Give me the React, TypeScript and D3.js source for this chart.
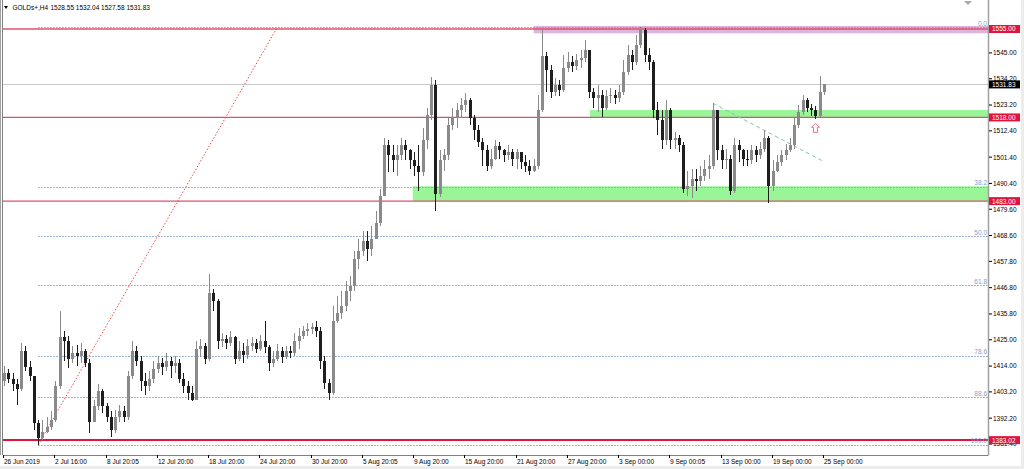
import * as d3 from "d3";

// GOLDs+ candles (open = previous close)
const firstOpen = 1407.6;
const closes = [
  1411.0, 1408.4, 1406.3, 1404.2, 1420.2, 1413.5, 1409.7, 1390.0, 1384.1, 1386.6,
  1388.7, 1391.6, 1405.5, 1426.1, 1424.4, 1416.8, 1419.4, 1418.1, 1420.2, 1415.2,
  1390.8, 1397.1, 1403.4, 1397.1, 1392.9, 1387.4, 1392.9, 1395.0, 1392.5, 1409.7,
  1420.2, 1416.0, 1407.6, 1405.5, 1408.4, 1412.6, 1415.2, 1413.5, 1416.0, 1413.9,
  1415.2, 1408.4, 1405.5, 1402.6, 1400.0, 1421.0, 1422.3, 1416.8, 1444.6, 1441.2,
  1424.4, 1425.2, 1423.6, 1426.1, 1416.8, 1420.2, 1418.5, 1422.3, 1423.6, 1421.0,
  1424.4, 1421.9, 1415.2, 1416.8, 1420.2, 1417.7, 1420.2, 1419.4, 1424.4, 1426.5,
  1428.6, 1429.4, 1430.3, 1428.6, 1416.0, 1406.8, 1402.6, 1432.8, 1436.2, 1439.1,
  1445.4, 1447.5, 1458.8, 1462.2, 1466.4, 1463.0, 1467.2, 1474.0, 1485.3, 1506.3,
  1502.1, 1500.0, 1502.1, 1506.3, 1504.2, 1500.0, 1497.9, 1495.0, 1508.4, 1518.9,
  1531.5, 1486.1, 1500.0, 1502.1, 1514.7, 1517.6, 1521.0, 1523.1, 1525.2, 1517.6,
  1512.6, 1507.6, 1504.2, 1497.9, 1500.8, 1505.9, 1504.2, 1502.1, 1503.4, 1500.8,
  1503.4, 1499.2, 1497.9, 1495.8, 1497.9, 1521.0, 1543.7, 1537.8, 1528.6, 1531.5,
  1529.4, 1538.6, 1541.2, 1539.5, 1542.0, 1542.8, 1546.2, 1528.6, 1526.0, 1527.3,
  1521.8, 1526.9, 1527.3, 1526.0, 1528.6, 1537.0, 1544.1, 1541.2, 1548.3, 1554.6,
  1544.1, 1541.2, 1521.0, 1516.8, 1508.4, 1521.0, 1508.4, 1509.2, 1506.3, 1488.2,
  1489.5, 1492.4, 1491.6, 1493.7, 1496.6, 1497.9, 1521.0, 1504.2, 1500.0, 1500.8,
  1487.4, 1506.3, 1504.2, 1500.8, 1500.0, 1504.2, 1502.1, 1505.0, 1509.2, 1489.5,
  1495.8, 1499.2, 1502.1, 1504.2, 1506.3, 1514.7, 1520.2, 1525.2, 1521.8, 1521.0,
  1518.5, 1528.55, 1531.83,
];
const highs = [
  1413.9, 1412.6, 1411.0, 1408.4, 1423.6, 1422.3, 1416.0, 1397.1, 1391.6, 1391.6,
  1392.9, 1395.0, 1407.6, 1437.0, 1428.6, 1426.5, 1422.3, 1422.7, 1423.6, 1421.0,
  1416.8, 1400.0, 1406.3, 1404.2, 1398.4, 1395.0, 1395.8, 1397.9, 1397.5, 1411.8,
  1424.4, 1422.3, 1418.1, 1411.0, 1411.8, 1416.0, 1418.1, 1417.3, 1419.4, 1417.7,
  1418.1, 1416.8, 1411.0, 1407.6, 1405.5, 1424.4, 1425.2, 1423.6, 1452.5, 1446.2,
  1442.0, 1427.8, 1426.9, 1428.6, 1426.5, 1424.4, 1423.6, 1425.2, 1426.1, 1425.2,
  1426.9, 1432.8, 1422.7, 1420.2, 1423.1, 1421.9, 1422.3, 1422.3, 1427.8, 1429.9,
  1430.7, 1432.0, 1432.0, 1432.8, 1430.3, 1418.1, 1408.4, 1439.1, 1443.3, 1445.4,
  1449.6, 1451.7, 1462.2, 1467.2, 1470.6, 1470.6, 1472.7, 1479.0, 1488.2, 1509.2,
  1508.4, 1506.3, 1506.3, 1509.2, 1508.4, 1505.0, 1503.4, 1506.3, 1513.4, 1521.8,
  1534.9, 1533.6, 1504.2, 1505.0, 1517.6, 1521.8, 1523.9, 1526.0, 1528.1, 1526.0,
  1518.9, 1514.7, 1509.2, 1506.3, 1505.0, 1508.4, 1507.6, 1505.0, 1506.3, 1505.0,
  1505.0, 1503.4, 1502.1, 1500.0, 1500.8, 1527.3, 1555.0, 1545.4, 1539.9, 1534.4,
  1533.6, 1544.1, 1545.4, 1543.7, 1544.5, 1546.2, 1550.4, 1545.4, 1530.2, 1531.5,
  1529.4, 1529.4, 1530.2, 1529.4, 1531.5, 1542.0, 1548.3, 1546.2, 1552.5, 1555.8,
  1555.4, 1547.0, 1542.0, 1524.4, 1521.0, 1525.2, 1521.8, 1511.8, 1510.5, 1507.6,
  1495.8, 1496.6, 1496.6, 1497.9, 1500.0, 1502.1, 1523.9, 1521.0, 1506.3, 1505.0,
  1502.1, 1509.2, 1508.4, 1505.0, 1504.2, 1506.3, 1505.9, 1507.6, 1512.6, 1510.1,
  1500.0, 1502.1, 1504.2, 1507.1, 1509.2, 1517.6, 1523.1, 1527.3, 1526.0, 1523.5,
  1522.7, 1535.5, 1532.04,
];
const lows = [
  1405.5, 1406.8, 1403.4, 1397.9, 1403.4, 1411.8, 1407.6, 1387.4, 1381.0, 1383.2,
  1385.8, 1387.4, 1390.8, 1404.2, 1416.0, 1413.1, 1415.2, 1413.9, 1415.2, 1413.5,
  1385.8, 1391.6, 1395.8, 1394.2, 1390.8, 1384.5, 1385.8, 1390.8, 1390.8, 1391.6,
  1408.4, 1413.9, 1403.4, 1402.1, 1403.4, 1406.8, 1411.0, 1410.1, 1411.8, 1408.9,
  1411.0, 1406.8, 1402.6, 1400.0, 1399.2, 1400.0, 1417.7, 1414.7, 1416.0, 1437.0,
  1421.0, 1421.9, 1421.0, 1422.3, 1414.7, 1416.0, 1415.2, 1416.8, 1420.2, 1419.4,
  1420.2, 1419.4, 1411.8, 1413.5, 1416.0, 1415.2, 1416.8, 1417.3, 1418.1, 1421.0,
  1425.2, 1426.5, 1427.3, 1426.1, 1412.6, 1404.2, 1400.0, 1401.7, 1432.0, 1433.6,
  1437.0, 1441.2, 1445.4, 1454.6, 1460.1, 1458.0, 1460.1, 1467.2, 1472.7, 1485.3,
  1495.0, 1495.0, 1493.3, 1500.0, 1500.0, 1496.6, 1493.7, 1487.4, 1493.7, 1505.0,
  1516.8, 1479.0, 1484.9, 1495.8, 1500.0, 1512.6, 1513.4, 1517.6, 1520.2, 1514.7,
  1508.4, 1505.5, 1497.9, 1495.8, 1496.6, 1500.0, 1500.8, 1499.2, 1500.0, 1497.9,
  1496.6, 1496.6, 1495.0, 1494.1, 1495.0, 1496.6, 1520.2, 1528.6, 1526.0, 1526.9,
  1526.9, 1528.6, 1537.0, 1537.0, 1537.8, 1538.6, 1541.2, 1526.0, 1521.8, 1520.2,
  1518.1, 1521.0, 1523.9, 1523.5, 1524.4, 1527.3, 1535.7, 1537.8, 1539.9, 1547.0,
  1541.2, 1537.8, 1517.6, 1510.5, 1505.0, 1506.3, 1505.0, 1505.0, 1503.4, 1486.6,
  1485.3, 1484.5, 1487.4, 1489.5, 1491.6, 1492.4, 1496.6, 1500.0, 1496.6, 1496.6,
  1485.7, 1486.6, 1499.2, 1497.9, 1497.5, 1498.7, 1499.2, 1500.8, 1503.4, 1482.4,
  1487.4, 1495.0, 1497.5, 1500.0, 1503.4, 1505.0, 1513.4, 1518.9, 1520.2, 1518.5,
  1517.2, 1518.0, 1527.58,
];

const dateLabels = [
  "26 Jun 2019", "2 Jul 16:00", "8 Jul 20:05", "12 Jul 20:00", "18 Jul 20:00",
  "24 Jul 20:00", "30 Jul 20:00", "5 Aug 20:05", "9 Aug 20:00", "15 Aug 20:00",
  "21 Aug 20:00", "27 Aug 20:00", "3 Sep 00:00", "9 Sep 00:05", "13 Sep 00:00",
  "19 Sep 00:00", "25 Sep 00:00",
];
const dateLabelStep = 12;

// 1556.00 sits behind the 1555.00 box in the original, only its tick shows
const priceTicks = [
  1556.0, 1545.0, 1534.2, 1523.2, 1512.4, 1501.4, 1490.4, 1479.6, 1468.6,
  1457.8, 1446.8, 1435.8, 1425.0, 1414.0, 1403.2, 1392.2, 1381.4,
];
const hiddenTick = 1556.0;

// horizontal levels
const redLevels = [1555.0, 1518.0, 1483.0];
const supportLevel = 1383.02;
const bidPrice = 1531.83;

// rectangles: start bar, top and bottom price
const zoneStarts = [124, 137.2, 95.7];
const zoneTops = [1556.3, 1521.1, 1489.2];
const zoneBottoms = [1553.2, 1518.0, 1483.0];

// fibonacci retracement
const fibRatios = [0, 38.2, 50, 61.8, 78.6, 88.6, 100];
const fibLowBar = 8;
const fibHighBar = 64;
const fibHigh = 1555.8;
const fibLow = 1381.0;

// descending trendline
const trendBars = [166, 192];
const trendPrices = [1523.9, 1499.5];

const arrowBar = 190;

const header = "GOLDs+,H4";
const headerOhlc = "1528.55 1532.04 1527.58 1531.83";

export default function App() {
  const W = 1024;
  const H = 469;
  const left = 3;
  const right = 988;
  const bottom = 455;
  const font = "'Liberation Sans', Arial, sans-serif";
  const fs = 6.5;

  const x = d3.scaleLinear().domain([0, 192]).range([4, 824]);
  const y = d3.scaleLinear().domain([1381.4, 1555]).range([444, 29]);
  const yl = (p: number) => Math.round(y(p)) + 0.5;

  const candles = closes.map((c, i) => {
    const o = i === 0 ? firstOpen : closes[i - 1];
    return {
      i,
      o,
      c,
      h: Math.max(highs[i], o, c),
      l: Math.min(lows[i], o, c),
    };
  });

  const redLine = "#e0506c";
  const crimson = "#e0143c";
  const fibColor = "#7f9fc6";
  const zoneFill = ["#dcb4dc", "#98f598", "#98f598"];

  const priceBox = (p: number, fill: string, key: string) => (
    <g key={key}>
      <rect x={right + 1} y={y(p) - 4} width={31} height={8} fill={fill} />
      <text x={right + 4} y={y(p) + 2.4} fill="#fff" fontSize={fs}>
        {p.toFixed(2)}
      </text>
    </g>
  );

  const ay = y(lows[arrowBar]) + 4;
  const ax = x(arrowBar);

  return (
    <div style={{ position: "absolute", left: 0, top: 0 }}>
      <svg width={W} height={H} fontFamily={font} style={{ display: "block" }}>
        <rect width={W} height={H} fill="#fff" />
        <rect x={0} y={466} width={W} height={3} fill="#ececec" />
        <rect x={1021} y={0} width={3} height={H} fill="#ececec" />

        {/* zones */}
        {zoneStarts.map((s, k) => (
          <rect
            key={"z" + k}
            x={x(s)}
            y={y(zoneTops[k])}
            width={right - x(s)}
            height={y(zoneBottoms[k]) - y(zoneTops[k])}
            fill={zoneFill[k]}
          />
        ))}

        {/* bid line */}
        <line x1={left} x2={right} y1={yl(bidPrice)} y2={yl(bidPrice)} stroke="#c8c8c8" />

        {/* red levels */}
        {redLevels.map((p) => (
          <line key={"r" + p} x1={left} x2={right} y1={y(p)} y2={y(p)} stroke={redLine} strokeWidth={1.3} />
        ))}
        <line x1={left} x2={right} y1={Math.round(y(supportLevel))} y2={Math.round(y(supportLevel))} stroke={crimson} strokeWidth={2} />

        {/* fibonacci */}
        {fibRatios.map((r) => {
          const p = fibHigh - (r / 100) * (fibHigh - fibLow);
          return (
            <g key={"f" + r}>
              <line
                x1={x(fibLowBar)}
                x2={right}
                y1={yl(p)}
                y2={yl(p)}
                stroke={fibColor}
                strokeDasharray="1.5,1.5"
              />
              <text x={right - 1} y={y(p) - 1.5} textAnchor="end" fill={fibColor} fontSize={fs}>
                {r.toFixed(1)}
              </text>
            </g>
          );
        })}
        <line
          x1={x(fibLowBar)}
          y1={y(fibLow)}
          x2={x(fibHighBar)}
          y2={y(fibHigh)}
          stroke="#f04848"
          strokeDasharray="1.5,1.8"
        />

        {/* trendline */}
        <line
          x1={x(trendBars[0])}
          y1={y(trendPrices[0])}
          x2={x(trendBars[1])}
          y2={y(trendPrices[1])}
          stroke="#7ccaa8"
          strokeDasharray="4,3"
        />

        {/* candles */}
        <g shapeRendering="crispEdges">
          {candles.map((d) => {
            const cx = Math.round(x(d.i));
            const up = d.c >= d.o;
            const col = up ? "#8a8a8a" : "#1e1e1e";
            const top = Math.round(y(Math.max(d.o, d.c)));
            const bot = Math.round(y(Math.min(d.o, d.c)));
            return (
              <g key={"c" + d.i}>
                <rect x={cx} y={y(d.h)} width={1} height={Math.max(1, y(d.l) - y(d.h))} fill={col} />
                <rect x={cx - 1} y={top} width={3} height={Math.max(1, bot - top)} fill={col} />
              </g>
            );
          })}
        </g>

        {/* arrow */}
        <path
          d={`M${ax},${ay} L${ax + 4},${ay + 4} L${ax + 2},${ay + 4} L${ax + 2},${ay + 9} L${ax - 2},${ay + 9} L${ax - 2},${ay + 4} L${ax - 4},${ay + 4} Z`}
          fill="#fff"
          stroke="#f07088"
          strokeWidth={1}
        />

        {/* frame */}
        <line x1={0.5} x2={0.5} y1={0} y2={bottom} stroke="#a0a0a0" />
        <line x1={2.5} x2={2.5} y1={0} y2={bottom} stroke="#808080" />
        <line x1={left} x2={right + 0.5} y1={bottom + 0.5} y2={bottom + 0.5} stroke="#808080" />
        <line x1={right + 0.5} x2={right + 0.5} y1={0} y2={bottom} stroke="#a0a0a0" strokeWidth={1.5} />
        <path d={`M${right - 24},1 L${right - 16},1 L${right - 20},5 Z`} fill="#a8a8a8" />

        {/* price axis */}
        {priceTicks.map((p) => (
          <g key={"t" + p}>
            <line x1={right + 1} x2={right + 4} y1={y(p)} y2={y(p)} stroke="#000" />
            {p === hiddenTick ? null : (
              <text x={right + 5} y={y(p) + 2.4} fontSize={fs} fill="#000">
                {p.toFixed(2)}
              </text>
            )}
          </g>
        ))}
        {redLevels.map((p) => priceBox(p, crimson, "b" + p))}
        {priceBox(supportLevel, crimson, "bs")}
        {priceBox(bidPrice, "#000", "bb")}

        {/* time axis */}
        {dateLabels.map((t, k) => {
          const tx = Math.round(x(k * dateLabelStep)) - 1;
          return (
            <g key={"d" + k}>
              <line x1={tx + 0.5} x2={tx + 0.5} y1={bottom} y2={bottom + 3} stroke="#000" />
              <text x={tx + 1} y={bottom + 8.5} fontSize={fs} fill="#000">
                {t}
              </text>
            </g>
          );
        })}

        {/* header */}
        <path d="M4,6 L8,6 L6,9 Z" fill="#000" />
        <text x={12.5} y={10} fontSize={fs} fill="#000">
          {header}
        </text>
        <text x={50.5} y={10} fontSize={fs} fill="#000">
          {headerOhlc}
        </text>
      </svg>
    </div>
  );
}
